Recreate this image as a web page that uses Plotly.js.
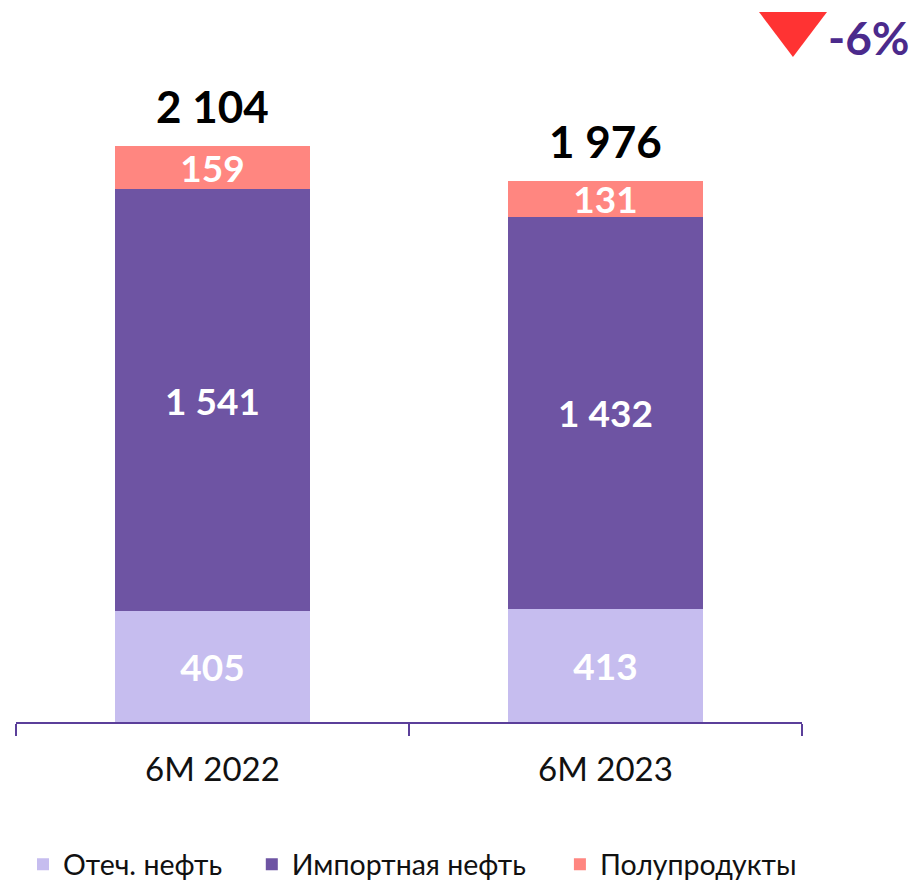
<!DOCTYPE html>
<html><head><meta charset="utf-8">
<script src="https://cdn.plot.ly/plotly-3.0.1.min.js"></script>
<style>html,body{margin:0;padding:0;background:#fff}#chart{width:913px;height:881px}</style>
</head><body><div id="chart"></div>
<script>
const categories = ["6M 2022", "6M 2023"];
const domesticOil = [405, 413];
const importedOil = [1541, 1432];
const semiProducts = [159, 131];
const totalLabels = [2104, 1976];
const changeLabel = "-6%";
const seriesNames = ["Отеч. нефть", "Импортная нефть", "Полупродукты"];

const fmt = v => String(v).replace(/\B(?=(\d{3})+(?!\d))/g, "\u00a0");
const stackTops = categories.map((c, i) => domesticOil[i] + importedOil[i] + semiProducts[i]);

const FONT = "Lato, 'Open Sans', sans-serif";
const colors = ["#C6BDEF", "#6E54A3", "#FF8680"];
const series = [domesticOil, importedOil, semiProducts];
const legendIds = ["legend", "legend2", "legend3"];
const legendX = [0.0089, 0.300, 0.692];

const traces = series.map((vals, k) => ({
  type: "bar",
  name: seriesNames[k],
  legend: legendIds[k],
  x: categories,
  y: vals,
  marker: {color: colors[k], line: {width: 0}},
  text: vals.map(fmt),
  textposition: "inside",
  insidetextanchor: "middle",
  textangle: 0,
  textfont: {family: FONT, size: 37, color: "#ffffff", weight: "bold"},
  hoverinfo: "skip",
  width: 0.496
}));

const annotations = categories.map((c, i) => ({
  x: c, y: stackTops[i], xref: "x", yref: "y",
  text: "<b>" + fmt(totalLabels[i]) + "</b>",
  showarrow: false, yanchor: "bottom", yshift: 12,
  font: {family: FONT, size: 44, color: "#000000"}
}));
annotations.push({
  xref: "paper", yref: "paper", x: 1.0305, y: 0.978,
  xanchor: "left", yanchor: "middle",
  text: "<b>" + changeLabel + "</b>",
  showarrow: false,
  font: {family: FONT, size: 46, color: "#4B2A8C"}
});

const layout = {
  width: 913, height: 881,
  margin: {l: 16, r: 111, t: 22, b: 159, autoexpand: false},
  paper_bgcolor: "#ffffff", plot_bgcolor: "#ffffff",
  barmode: "stack",
  uniformtext: {mode: "show", minsize: 37},
  xaxis: {
    type: "category", range: [-0.5, 1.5],
    showline: true, linecolor: "#5B3F9A", linewidth: 2,
    ticks: "outside", tickson: "boundaries", ticklen: 12, tickwidth: 2, tickcolor: "#5B3F9A",
    ticklabelstandoff: 17,
    tickfont: {family: FONT, size: 33, color: "#111111"},
    showgrid: false, zeroline: false, fixedrange: true, automargin: false
  },
  yaxis: {range: [0, 2557], visible: false, showgrid: false, zeroline: false, fixedrange: true},
  showlegend: true,
  annotations: annotations,
  shapes: [{
    type: "path", xref: "paper", yref: "paper",
    path: "M 0.9453 1.0143 L 1.0318 1.0143 L 0.9885 0.95 Z",
    fillcolor: "#FF3333", line: {width: 0}
  }]
};
legendIds.forEach((id, k) => {
  layout[id] = {
    orientation: "h", x: legendX[k], xanchor: "left", y: -0.204, yanchor: "middle",
    font: {family: FONT, size: 28.5, color: "#111111"},
    itemwidth: 30, itemclick: false, bgcolor: "rgba(0,0,0,0)"
  };
});

Plotly.newPlot("chart", traces, layout, {displayModeBar: false, staticPlot: true});
</script></body></html>
